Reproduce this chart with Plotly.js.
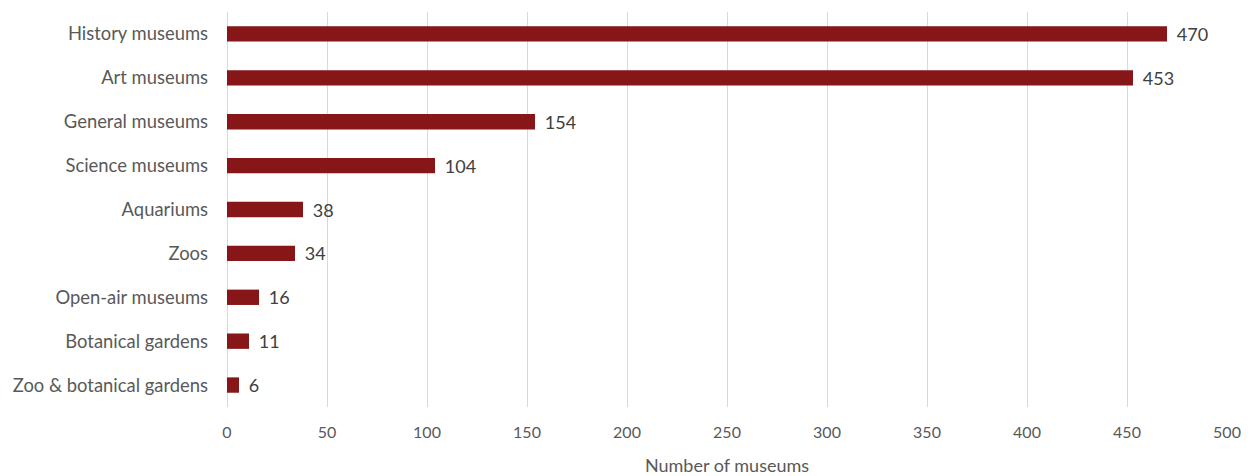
<!DOCTYPE html>
<html>
<head>
<meta charset="utf-8">
<script src="https://cdn.plot.ly/plotly-3.0.1.min.js"></script>
<style>html,body{margin:0;padding:0;background:#fff;}#chart{width:1254px;height:476px;}</style>
</head>
<body>
<div id="chart"></div>
<script>
const categories = ["History museums","Art museums","General museums","Science museums","Aquariums","Zoos","Open-air museums","Botanical gardens","Zoo & botanical gardens"];
const counts = [470,453,154,104,38,34,16,11,6];
const xTicks = [0,50,100,150,200,250,300,350,400,450,500];

const trace = {
  type: 'bar',
  orientation: 'h',
  y: categories,
  x: counts,
  text: counts.map(v => '\u00a0\u2009' + v),
  textposition: 'outside',
  constraintext: 'none',
  cliponaxis: false,
  textfont: {family: 'Lato, "Open Sans", sans-serif', size: 18, color: '#404040'},
  marker: {color: '#861618'},
  hoverinfo: 'x+y'
};

const layout = {
  width: 1254, height: 476,
  margin: {l: 227, r: 27, t: 12, b: 69},
  paper_bgcolor: '#ffffff', plot_bgcolor: '#ffffff',
  bargap: 0.65,
  showlegend: false,
  font: {family: 'Lato, "Open Sans", sans-serif', size: 16, color: '#595959'},
  xaxis: {
    range: [0, 500],
    tickvals: xTicks,
    ticktext: xTicks.map(String),
    showgrid: true, gridcolor: '#d9d9d9', gridwidth: 1,
    zeroline: true, zerolinecolor: '#d9d9d9', zerolinewidth: 1,
    showline: false,
    ticks: '', ticklabelstandoff: 14,
    tickfont: {size: 16, color: '#595959'},
    title: {text: 'Number of museums', font: {size: 18, color: '#595959'}, standoff: 21},
    fixedrange: true
  },
  yaxis: {
    categoryorder: 'array', categoryarray: categories,
    autorange: 'reversed',
    showgrid: false, showline: false, zeroline: false,
    ticks: '', ticklabelstandoff: 18,
    tickfont: {size: 18.4, color: '#595959'},
    fixedrange: true
  }
};

Plotly.newPlot('chart', [trace], layout, {displayModeBar: false, staticPlot: true});
</script>
</body>
</html>
